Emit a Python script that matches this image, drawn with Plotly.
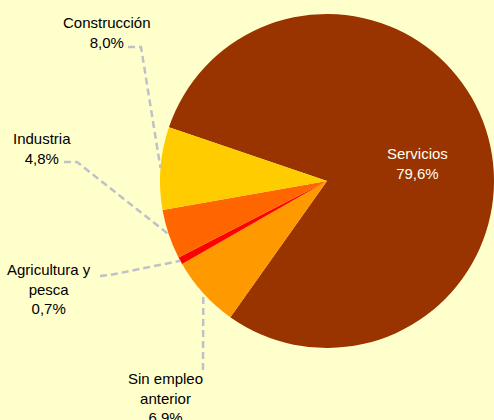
import math
import plotly.graph_objects as go

BG = '#FFFFCC'
LINE_COLOR = '#C0C0C8'
FONT = 'Arial, Liberation Sans, sans-serif'

# data (order = clockwise from the first slice)
sectors = ['Servicios', 'Sin empleo anterior', 'Agricultura y pesca', 'Industria', 'Construcción']
shares = [79.6, 6.9, 0.7, 4.8, 8.0]
colors = ['#993300', '#FF9900', '#FF0000', '#FF6600', '#FFCC00']
label_text = ['Servicios', 'Sin empleo<br>anterior', 'Agricultura y<br>pesca', 'Industria', 'Construcción']

W, H = 494, 420
ROTATION = -71.2
# pie geometry (pixels)
CX, CY, R = 327, 181, 167

# where each label sits and where its leader line bends (pixels)
label_pos = {
    'Servicios': dict(x=417, y=164, path=None, color='#FFFFF0'),
    'Sin empleo anterior': dict(x=165, y=398, path=[(203, 370)], color='#000000'),
    'Agricultura y pesca': dict(x=49, y=289, path=[(100, 276), (110, 275)], color='#000000'),
    'Industria': dict(x=42, y=148, path=[(64, 162), (77, 162)], color='#000000'),
    'Construcción': dict(x=107, y=33, path=[(128, 47), (141, 47)], color='#000000'),
}

fig = go.Figure()

fig.add_trace(go.Pie(
    labels=sectors,
    values=shares,
    sort=False,
    direction='clockwise',
    rotation=ROTATION,
    marker=dict(colors=colors, line=dict(width=0)),
    textinfo='none',
    hoverinfo='label+percent',
    showlegend=False,
    domain=dict(x=[(CX - R) / W, min(1, (CX + R) / W)],
                y=[1 - (CY + R) / H, 1 - (CY - R) / H]),
))

def px(x, y):
    return x / W, 1 - y / H

total = sum(shares)
angle = ROTATION
shapes = []
annotations = []
for name, val, txt in zip(sectors, shares, label_text):
    span = val / total * 360
    mid = math.radians(angle + span / 2)
    angle += span
    info = label_pos[name]
    if info['path']:
        ex = CX + R * math.sin(mid)
        ey = CY - R * math.cos(mid)
        pts = info['path'] + [(ex, ey)]
        path = 'M ' + ' L '.join('%.4f %.4f' % px(x, y) for x, y in pts)
        shapes.append(dict(type='path', xref='paper', yref='paper', path=path,
                           line=dict(color=LINE_COLOR, width=2.5, dash='7px,4px')))
    lx, ly = px(info['x'], info['y'])
    annotations.append(dict(
        x=lx, y=ly, xref='paper', yref='paper', showarrow=False,
        xanchor='center', yanchor='middle', align='center',
        text=txt + '<br>' + ('%.1f%%' % (val / total * 100)).replace('.', ','),
        font=dict(family=FONT, size=15, color=info['color'])))

fig.update_layout(
    width=W,
    height=H,
    margin=dict(l=0, r=0, t=0, b=0),
    paper_bgcolor=BG,
    plot_bgcolor=BG,
    separators=',.',
    shapes=shapes,
    annotations=annotations,
)

fig.write_html("out.html", config={'displayModeBar': False},
               post_script="document.body.style.margin='0px';")
